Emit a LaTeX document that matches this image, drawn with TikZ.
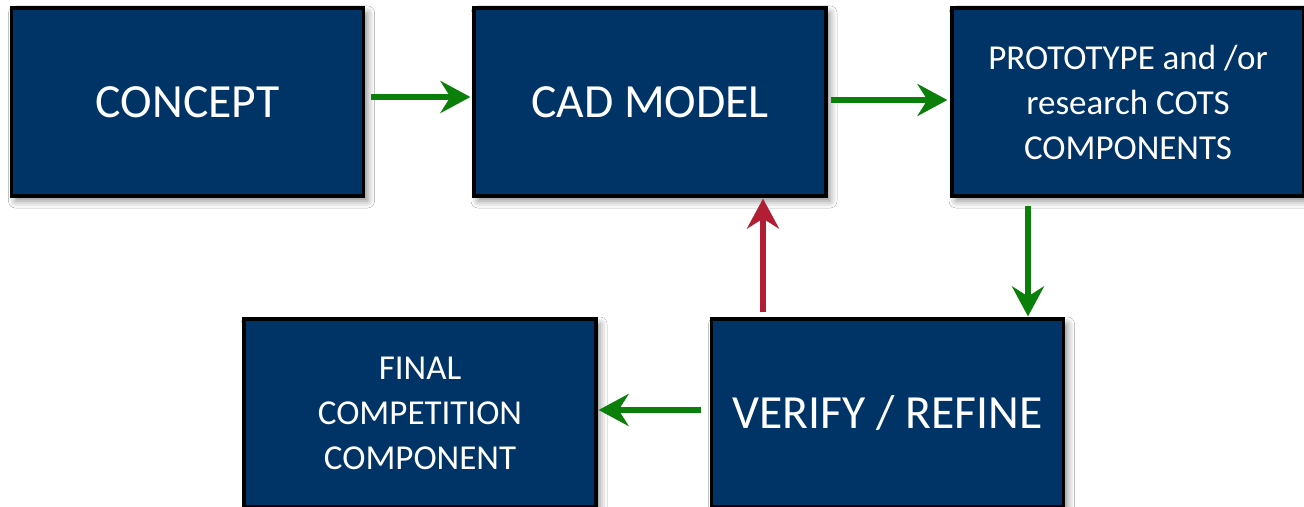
\documentclass[tikz,border=0pt]{standalone}
\usepackage{fontspec}
\setmainfont{Carlito}
\usetikzlibrary{arrows.meta,shadows.blur}
\definecolor{boxblue}{RGB}{0,51,102}
\definecolor{flowgreen}{RGB}{10,128,10}
\definecolor{backred}{RGB}{178,30,52}
\tikzset{
  stagebox/.style={draw=black, line width=1.6pt, fill=boxblue, text=white,
    minimum width=176pt, minimum height=94pt, inner sep=0pt, align=center,
    blur shadow={shadow xshift=2pt, shadow yshift=-2.5pt, shadow blur radius=3.5pt, shadow opacity=45}},
  bigtext/.style={font=\fontsize{23.8}{27}\selectfont},
  smalltext/.style={font=\fontsize{17.5}{22.5}\selectfont},
  flow/.style={line width=2.6pt, -{Stealth[length=15pt, width=16pt, inset=5pt]}},
  greenflow/.style={flow, draw=flowgreen, fill=flowgreen},
  redflow/.style={flow, draw=backred, fill=backred}
}
\begin{document}
\begin{tikzpicture}[x=0.5pt,y=-0.5pt]
  \clip (0,0) rectangle (1304,507);
  \fill[white] (0,0) rectangle (1304,507);

  % process stages
  \node[stagebox, bigtext] (concept) at (187.5,102) {CONCEPT};
  \node[stagebox, bigtext] (cad) at (650,102) {CAD MODEL};
  \node[stagebox, smalltext] (proto) at (1128,102) {PROTOTYPE and /or\\research COTS\\COMPONENTS};
  \node[stagebox, smalltext] (final) at (420,413) {FINAL\\COMPETITION\\COMPONENT};
  \node[stagebox, bigtext] (verify) at (887.5,413) {VERIFY / REFINE};

  % columns for the vertical connectors
  \coordinate (downcol) at (1028,0);
  \coordinate (upcol) at (763,0);

  % connectors
  \draw[greenflow, shorten <=3pt, shorten >=1pt] ([yshift=2.5pt]concept.east) -- ([yshift=2.5pt]cad.west);
  \draw[greenflow, shorten <=1.5pt, shorten >=1.5pt] ([yshift=1pt]cad.east) -- ([yshift=1pt]proto.west);
  \draw[greenflow, shorten <=4pt, shorten >=0.5pt] (proto.south -| downcol) -- (verify.north -| downcol);
  \draw[redflow, shorten <=2.5pt, shorten >=0.5pt] (verify.north -| upcol) -- (cad.south -| upcol);
  \draw[greenflow, shorten <=4.5pt, shorten >=0.5pt] ([yshift=1.5pt]verify.west) -- ([yshift=1.5pt]final.east);
\end{tikzpicture}
\end{document}
